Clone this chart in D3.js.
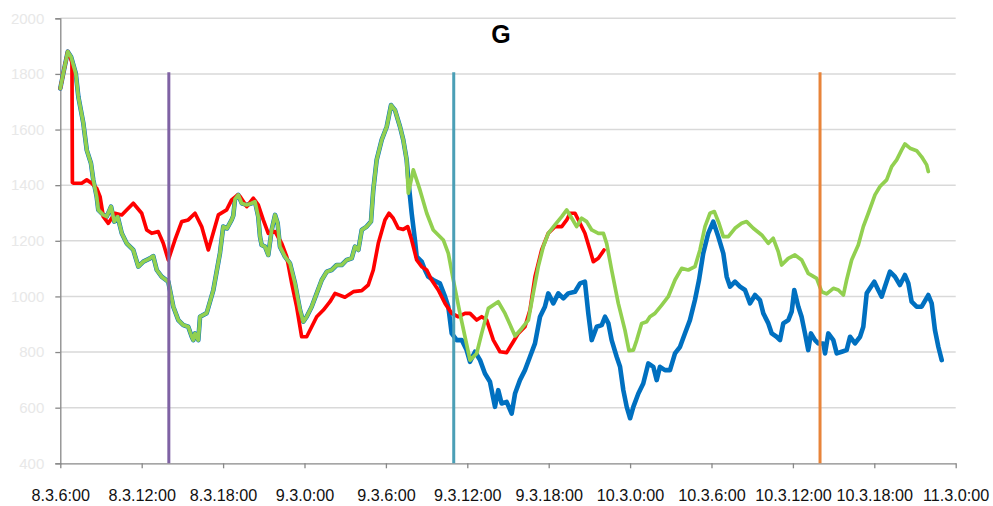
<!DOCTYPE html>
<html>
<head>
<meta charset="utf-8">
<script src="https://cdn.jsdelivr.net/npm/d3@7"></script>
<style>
  html, body { margin: 0; padding: 0; background: #fff; }
  svg { display: block; }
</style>
</head>
<body>
<svg id="chart" width="993" height="506"></svg>
<script>
// Series readings: [hours after 8.3 6:00, value]
// Blue and green run together until about 9.3 7:40.
const sharedStart = [
  [0.00,1748],[0.22,1802],[0.55,1880],[0.79,1862],[1.14,1802],[1.33,1718],[1.70,1622],[1.95,1526],
  [2.26,1479],[2.43,1419],[2.68,1359],[2.80,1311],[3.17,1293],[3.42,1287],[3.74,1323],[3.98,1269],
  [4.23,1287],[4.53,1227],[4.89,1191],[5.38,1167],[5.75,1107],[6.12,1125],[6.61,1137],[6.85,1145],
  [7.11,1095],[7.47,1071],[7.96,1053],[8.33,963],[8.70,915],[9.07,897],[9.43,891],[9.69,855],
  [9.80,843],[9.93,867],[10.17,843],[10.30,927],[10.79,940],[11.28,1023],[11.77,1156],[12.01,1251],
  [12.29,1245],[12.63,1275],[12.75,1290],[12.88,1350],[13.12,1365],[13.37,1335],[13.74,1329],[14.11,1335],
  [14.35,1341],[14.59,1287],[14.72,1215],[14.84,1185],[15.09,1179],[15.33,1149],[15.58,1239],[15.83,1293],
  [16.02,1263],[16.19,1179],[16.56,1143],[16.93,1119],[17.30,1047],[17.67,951],[17.91,909],[18.16,927],
  [18.53,963],[18.90,1011],[19.27,1059],[19.64,1089],[20.00,1095],[20.37,1113],[20.74,1113],[21.11,1131],
  [21.48,1137],[21.72,1179],[21.97,1167],[22.22,1239],[22.58,1251],[22.90,1269],[23.07,1383],[23.32,1491],
  [23.69,1563],[24.06,1610],[24.38,1688],[24.67,1670],[25.04,1610],[25.28,1563],[25.53,1491]
];

const blueTail = [
  [25.65,1420],[25.90,1299],[26.14,1203],[26.27,1143],[26.64,1125],[26.88,1095],[27.12,1071],[27.49,1059],
  [27.98,1047],[28.36,999],[28.60,963],[28.85,867],[29.22,843],[29.59,843],[29.95,807],[30.20,765],
  [30.57,801],[30.94,771],[31.30,723],[31.67,693],[32.04,603],[32.28,663],[32.53,615],[32.90,621],
  [33.27,579],[33.52,651],[33.88,699],[34.25,735],[34.62,783],[34.99,831],[35.36,927],[35.72,963],
  [35.97,1011],[36.34,975],[36.71,1011],[37.08,993],[37.44,1011],[37.94,1017],[38.31,1047],[38.67,1053],
  [38.92,939],[39.17,843],[39.54,891],[39.91,897],[40.15,927],[40.40,903],[40.64,843],[41.01,783],
  [41.26,747],[41.50,663],[41.75,603],[42.00,562],[42.24,603],[42.61,651],[42.97,687],[43.34,759],
  [43.71,747],[43.96,699],[44.20,747],[44.57,735],[44.94,735],[45.31,795],[45.68,819],[46.04,867],
  [46.41,915],[46.78,987],[47.08,1059],[47.39,1155],[47.76,1227],[48.13,1269],[48.50,1215],[48.87,1155],
  [49.12,1071],[49.37,1035],[49.73,1053],[50.10,1035],[50.47,1023],[50.84,975],[51.21,1005],[51.57,987],
  [51.82,939],[52.19,903],[52.44,867],[52.80,855],[53.05,843],[53.29,903],[53.66,915],[53.91,945],
  [54.10,1023],[54.40,963],[54.64,927],[54.89,867],[55.13,807],[55.33,867],[55.63,843],[55.87,831],
  [56.24,831],[56.37,795],[56.61,867],[56.98,843],[57.23,795],[57.60,801],[57.96,807],[58.21,855],
  [58.58,831],[58.95,855],[59.19,891],[59.44,1011],[59.68,1029],[60.00,1053],[60.29,1023],[60.54,999],
  [60.78,1035],[61.15,1089],[61.52,1071],[61.89,1041],[62.26,1077],[62.51,1047],[62.75,981],[63.12,963],
  [63.49,963],[63.98,1005],[64.23,975],[64.47,879],[64.72,819],[64.97,771]
];

const greenTail = [
  [25.65,1371],[26.02,1455],[26.51,1383],[27.01,1299],[27.49,1239],[28.23,1203],[28.60,1155],[28.97,1059],
  [29.46,939],[30.20,771],[30.69,795],[31.06,867],[31.55,957],[32.28,981],[32.78,939],[33.52,858],
  [34.01,885],[34.50,915],[34.86,1011],[35.23,1107],[35.60,1179],[35.97,1227],[36.46,1257],[36.96,1287],
  [37.33,1311],[37.70,1281],[38.06,1251],[38.43,1281],[38.80,1269],[39.17,1239],[39.66,1227],[40.03,1227],
  [40.27,1191],[40.64,1095],[41.13,975],[41.62,879],[41.92,805],[42.24,807],[42.49,843],[42.85,903],
  [43.22,909],[43.46,927],[43.83,939],[44.33,969],[44.81,999],[45.31,1059],[45.80,1101],[46.29,1095],
  [46.78,1107],[47.15,1167],[47.52,1251],[47.89,1299],[48.21,1305],[48.55,1263],[48.87,1215],[49.24,1215],
  [49.73,1245],[50.22,1263],[50.59,1269],[51.08,1245],[51.70,1221],[52.19,1191],[52.55,1209],[52.92,1161],
  [53.17,1113],[53.66,1137],[54.15,1149],[54.65,1131],[55.13,1083],[55.75,1065],[56.12,1017],[56.49,1009],
  [56.98,1029],[57.35,1023],[57.72,1005],[57.96,1059],[58.33,1131],[58.82,1185],[59.19,1251],[59.56,1299],
  [60.05,1365],[60.42,1395],[60.91,1419],[61.28,1467],[61.65,1491],[62.02,1527],[62.26,1548],[62.63,1533],
  [63.12,1524],[63.49,1502],[63.86,1473],[63.98,1449]
];

const redSeries = [
  [0.00,1748],[0.22,1802],[0.55,1880],[0.74,1860],[0.86,1840],[0.89,1410],[0.96,1407],[1.58,1407],
  [1.95,1419],[2.31,1407],[2.68,1389],[2.93,1359],[3.17,1287],[3.54,1263],[4.03,1299],[4.53,1293],
  [4.89,1311],[5.38,1335],[6.00,1299],[6.37,1239],[6.74,1227],[7.22,1233],[7.59,1191],[7.96,1131],
  [8.45,1203],[8.95,1269],[9.43,1275],[9.93,1299],[10.42,1251],[10.91,1167],[11.65,1293],[12.26,1311],
  [12.63,1347],[13.08,1365],[13.25,1359],[13.74,1323],[14.23,1353],[14.59,1329],[14.96,1275],[15.33,1227],
  [15.83,1233],[16.32,1191],[16.69,1143],[17.06,1047],[17.42,963],[17.79,855],[18.16,855],[18.53,891],
  [18.90,927],[19.39,951],[19.88,981],[20.25,1011],[20.98,997],[21.60,1017],[22.22,1021],[22.70,1041],
  [23.07,1095],[23.44,1191],[23.93,1275],[24.23,1299],[24.54,1281],[24.91,1245],[25.28,1241],[25.61,1251],
  [25.90,1203],[26.27,1131],[26.64,1107],[27.01,1095],[27.37,1059],[27.86,1023],[28.36,975],[28.85,939],
  [29.34,927],[29.83,939],[30.20,939],[30.69,915],[31.06,927],[31.43,915],[31.92,843],[32.41,801],
  [32.90,798],[33.39,837],[33.76,867],[34.25,891],[34.62,951],[34.99,1071],[35.48,1167],[35.97,1227],
  [36.46,1251],[36.96,1251],[37.33,1275],[37.57,1299],[37.94,1299],[38.31,1263],[38.67,1227],[39.04,1167],
  [39.29,1125],[39.66,1137],[40.08,1167]
];

const blueSeries = sharedStart.concat(blueTail);
const greenSeries = sharedStart.concat(greenTail);

// Event markers (hours after start) and their colours
const markerHours = [8, 29, 56];
const markerColors = ["#7F62A4", "#4B9FB6", "#E8843A"];
const markerTop = 1806;

const yTicks = [400, 600, 800, 1000, 1200, 1400, 1600, 1800, 2000];
const titleText = "G";

(function draw() {
  const start = new Date(Date.UTC(2013, 2, 8, 6));
  const end = new Date(Date.UTC(2013, 2, 11, 0));
  const toDate = h => new Date(start.getTime() + h * 3600000);

  const svg = d3.select("#chart");
  const plotLeft = 60.3, plotRight = 955.7, plotTop = 18.3, plotBottom = 463.3;

  const x = d3.scaleUtc().domain([start, end]).range([plotLeft, plotRight]);
  const y = d3.scaleLinear().domain([400, 2000]).range([plotBottom, plotTop]);

  // Horizontal gridlines
  svg.append("g")
    .selectAll("line")
    .data(yTicks.filter(v => v > 400))
    .join("line")
    .attr("x1", plotLeft).attr("x2", plotRight)
    .attr("y1", d => y(d)).attr("y2", d => y(d))
    .attr("stroke", "#d9d9d9").attr("stroke-width", 1.5);

  // Y axis
  const yAxis = svg.append("g")
    .attr("transform", `translate(${plotLeft},0)`)
    .call(d3.axisLeft(y).tickValues(yTicks).tickSize(5).tickPadding(11).tickFormat(d3.format("d")));
  yAxis.select(".domain").attr("stroke", "#888").attr("stroke-width", 1.3);
  yAxis.selectAll(".tick line").attr("stroke", "#888").attr("stroke-width", 1.3);
  yAxis.selectAll("text")
    .attr("fill", "#e8e8e8")
    .style("font-family", "'Liberation Sans', Arial, sans-serif")
    .style("font-size", "15px");

  // X axis
  const xAxis = svg.append("g")
    .attr("transform", `translate(0,${plotBottom})`)
    .call(d3.axisBottom(x)
      .ticks(d3.utcHour.every(6))
      .tickSize(5).tickSizeOuter(0).tickPadding(21)
      .tickFormat(d3.utcFormat("%-d.%-m.%-H:%M")));
  xAxis.select(".domain").attr("stroke", "#888").attr("stroke-width", 1.3);
  xAxis.selectAll(".tick line").attr("stroke", "#888").attr("stroke-width", 1.3);
  xAxis.selectAll("text")
    .attr("fill", "#111")
    .style("font-family", "'Liberation Sans', Arial, sans-serif")
    .style("font-size", "16.2px");

  const line = d3.line()
    .x(d => x(toDate(d[0])))
    .y(d => y(d[1]));

  const series = [
    { data: blueSeries, color: "#0070C0", width: 4.6 },
    { data: redSeries, color: "#FF0000", width: 3.7 },
    { data: greenSeries, color: "#92D050", width: 3.7 }
  ];

  svg.append("g")
    .selectAll("path")
    .data(series)
    .join("path")
    .attr("d", d => line(d.data))
    .attr("fill", "none")
    .attr("stroke", d => d.color)
    .attr("stroke-width", d => d.width)
    .attr("stroke-linejoin", "round")
    .attr("stroke-linecap", "round");

  // Vertical event markers
  svg.append("g")
    .selectAll("line")
    .data(markerHours)
    .join("line")
    .attr("x1", d => x(toDate(d))).attr("x2", d => x(toDate(d)))
    .attr("y1", y(400)).attr("y2", y(markerTop))
    .attr("stroke", (d, i) => markerColors[i])
    .attr("stroke-width", 3);

  // Title
  svg.append("text")
    .attr("x", 501).attr("y", 43)
    .attr("text-anchor", "middle")
    .style("font-family", "'Liberation Sans', Arial, sans-serif")
    .style("font-weight", "bold")
    .style("font-size", "25px")
    .attr("fill", "#000")
    .text(titleText);
})();
</script>
</body>
</html>
